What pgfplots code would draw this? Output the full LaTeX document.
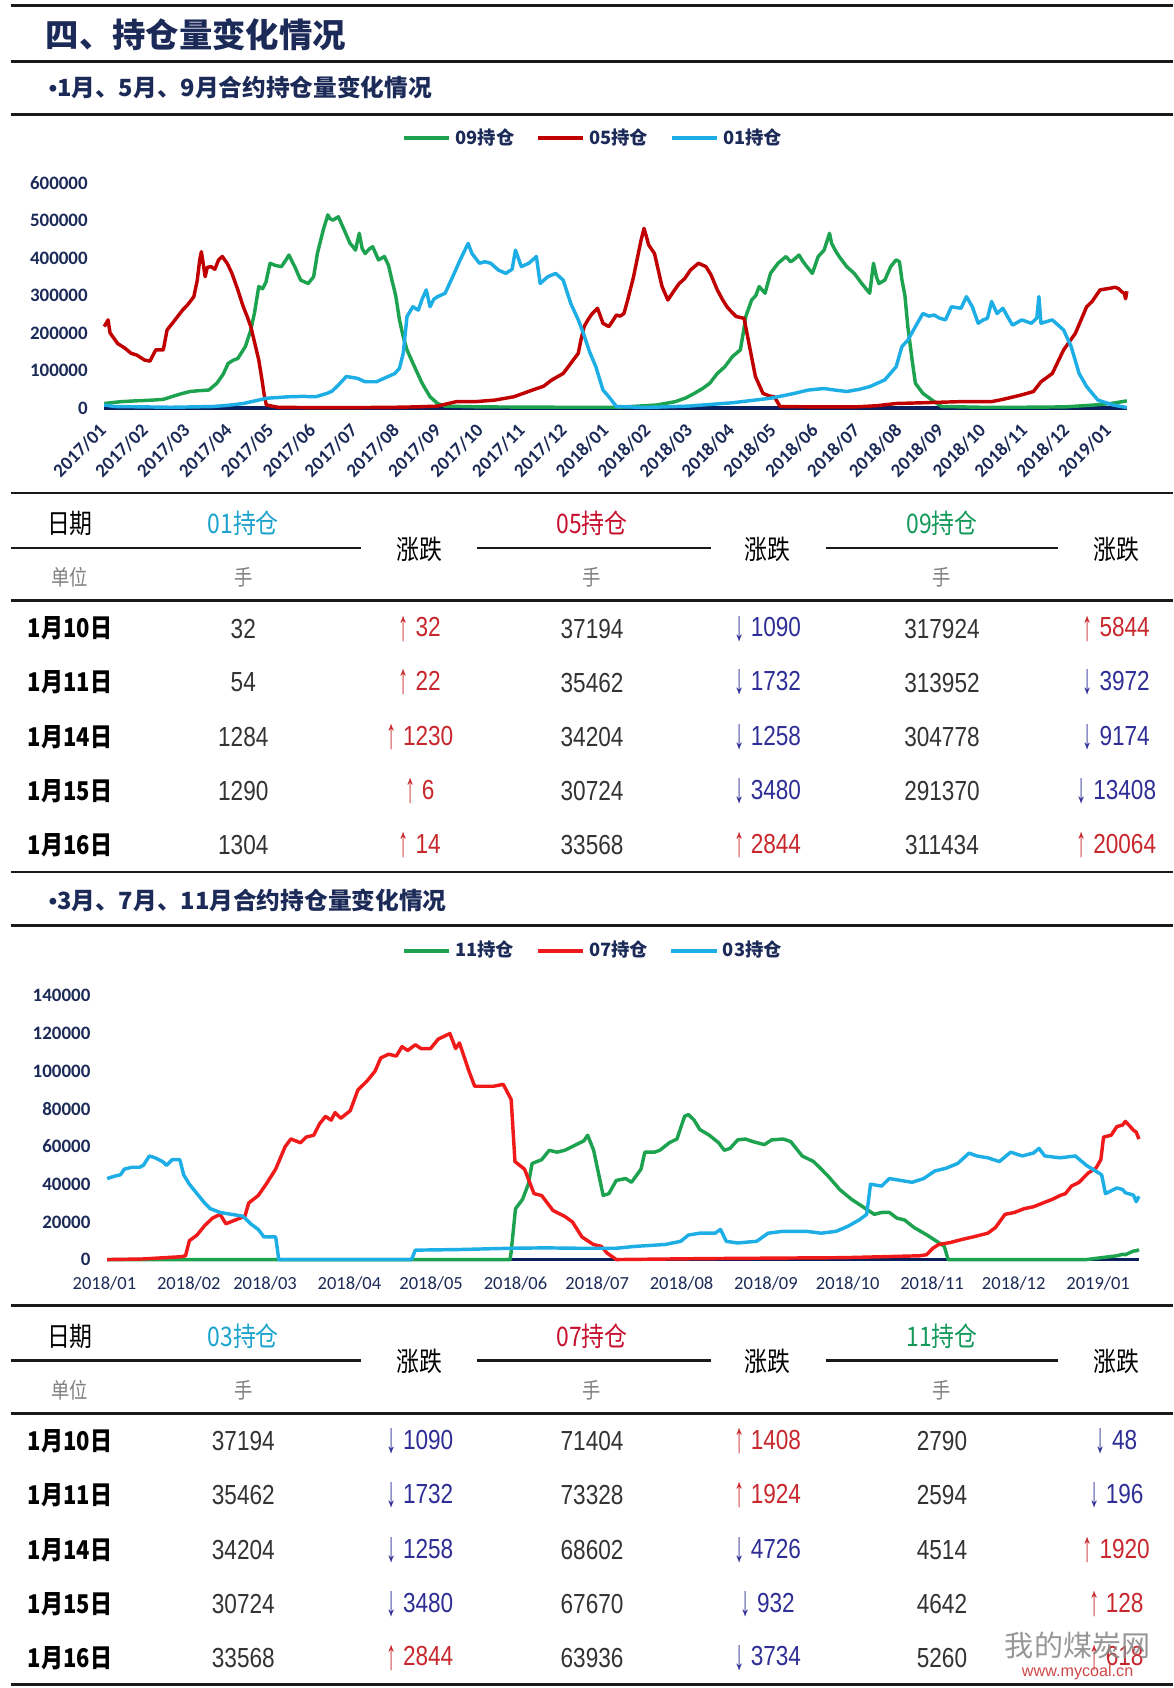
\documentclass[border=0pt]{standalone}
\usepackage{pgfplots}
\pgfplotsset{compat=1.18}
\usepackage{graphicx}
\usepackage{fontspec}
\setmainfont{Liberation Sans}
\newfontfamily\cjk{Noto Sans CJK SC}
\newfontfamily\cjkn[FakeStretch=0.85]{Noto Sans CJK SC}
\newfontfamily\narrow[FakeStretch=0.82]{Liberation Sans}
\newfontfamily\tickf{Carlito}

\definecolor{navy}{HTML}{1C2A58}
\definecolor{g09}{HTML}{1DA34F}
\definecolor{r05}{HTML}{C00000}
\definecolor{r07}{HTML}{F01A1A}
\definecolor{b01}{HTML}{1EAEE6}
\definecolor{dk}{HTML}{0A1F5C}
\definecolor{hc}{HTML}{1AA3CC}
\definecolor{hr}{HTML}{C8102E}
\definecolor{hg}{HTML}{139A5A}
\definecolor{upc}{HTML}{C8282D}
\definecolor{dnc}{HTML}{2E2E96}
\definecolor{numc}{HTML}{333333}
\definecolor{rulec}{HTML}{1A1A1A}

\newcommand{\up}[1]{\textcolor{upc}{\raisebox{-0.12em}{\scalebox{0.9}[1.55]{↑}}\hspace{3pt}#1}}
\newcommand{\dn}[1]{\textcolor{dnc}{\raisebox{-0.12em}{\scalebox{0.9}[1.55]{↓}}\hspace{3pt}#1}}

\tikzset{
  num/.style={font=\narrow\fontsize{12.8}{13}\selectfont, text=numc, inner sep=0pt},
  chg/.style={font=\narrow\fontsize{12.8}{13}\selectfont, inner sep=0pt},
  hdr/.style={font=\cjkn\fontsize{12.5}{13}\selectfont, inner sep=0pt},
  unit/.style={font=\cjkn\fontsize{10}{10}\selectfont, text=gray, inner sep=0pt},
  dt/.style={font=\cjkn\bfseries\fontsize{12}{12}\selectfont, text=black, inner sep=0pt},
  rl/.style={draw=rulec, line width=1.3pt},
}

\newcommand{\thead}[4]{%
  \node[hdr] at (65,#1+28) {日期};
  \node[hdr,text=hc] at (226,#1+28) {#2};
  \node[hdr,text=hr] at (550,#1+28) {#3};
  \node[hdr,text=hg] at (875,#1+28) {#4};
  \node[hdr] at (390,#1+52) {涨跌};
  \node[hdr] at (713,#1+52) {涨跌};
  \node[hdr] at (1037,#1+52) {涨跌};
  \draw[rl] (10,#1+51) -- (335,#1+51);
  \draw[rl] (443,#1+51) -- (660,#1+51);
  \draw[rl] (767,#1+51) -- (983,#1+51);
  \node[unit] at (65,#1+78) {单位};
  \node[unit] at (226,#1+78) {手};
  \node[unit] at (550,#1+78) {手};
  \node[unit] at (875,#1+78) {手};
  \draw[rl] (10,#1+100) -- (1090,#1+100);
}
\newcommand{\trow}[8]{%
  \node[dt] at (65,#1) {#2};
  \node[num] at (226,#1) {#3};
  \node[chg] at (390,#1) {#4};
  \node[num] at (550,#1) {#5};
  \node[chg] at (713,#1) {#6};
  \node[num] at (875,#1) {#7};
  \node[chg] at (1037,#1) {#8};
}

\pgfplotsset{
  mystyle/.style={
    scale only axis, axis line style={draw=none}, major tick length=0pt,
    clip=false,
    yticklabel style={font=\tickf\bfseries\fontsize{8.8}{9}\selectfont, text=navy,
      /pgf/number format/fixed, /pgf/number format/1000 sep={},
      /pgf/number format/assume math mode=true, xshift=-3pt},
    scaled y ticks=false,
    legend style={draw=none, fill=none, legend columns=3,
      font=\cjk\bfseries\fontsize{8.5}{9}\selectfont, text=navy,
      /tikz/every even column/.append style={column sep=8pt}},
    legend image code/.code={\draw[##1, line width=1.8pt] (0pt,0pt) -- (21pt,0pt);},
    every axis plot/.append style={line width=1.6pt, line join=round, mark=none},
  }
}

\begin{document}
\begin{tikzpicture}
\begin{scope}[x=0.5pt,y=-0.5pt]
  \fill[white] (0,0) rectangle (1090,1568);
  \useasboundingbox (0,0) rectangle (1090,1568);
  % header
  \draw[rl] (10,5) -- (1090,5);
  \node[anchor=west, inner sep=0pt, font=\cjk\bfseries\fontsize{15.5}{16}\selectfont, text=navy] at (42,32) {四、持仓量变化情况};
  \draw[rl] (10,57) -- (1090,57);
  \node[anchor=west, inner sep=0pt, font=\cjk\bfseries\fontsize{11}{12}\selectfont, text=navy] at (45,81) {{\rmfamily\bfseries •}1月、5月、9月合约持仓量变化情况};
  \draw[rl] (10,106) -- (1090,106);
  \draw[rl] (10,458) -- (1090,458);
  % table 1
  \thead{458}{01持仓}{05持仓}{09持仓}
  \trow{584}{1月10日}{32}{\up{32}}{37194}{\dn{1090}}{317924}{\up{5844}}
  \trow{634}{1月11日}{54}{\up{22}}{35462}{\dn{1732}}{313952}{\dn{3972}}
  \trow{685}{1月14日}{1284}{\up{1230}}{34204}{\dn{1258}}{304778}{\dn{9174}}
  \trow{735}{1月15日}{1290}{\up{6}}{30724}{\dn{3480}}{291370}{\dn{13408}}
  \trow{785}{1月16日}{1304}{\up{14}}{33568}{\up{2844}}{311434}{\up{20064}}
  \draw[rl] (10,810) -- (1090,810);
  \node[anchor=west, inner sep=0pt, font=\cjk\bfseries\fontsize{11}{12}\selectfont, text=navy] at (45,836) {{\rmfamily\bfseries •}3月、7月、11月合约持仓量变化情况};
  \draw[rl] (10,860) -- (1090,860);
  \draw[rl] (10,1213) -- (1090,1213);
  % table 2
  \thead{1213}{03持仓}{07持仓}{11持仓}
  \trow{1339}{1月10日}{37194}{\dn{1090}}{71404}{\up{1408}}{2790}{\dn{48}}
  \trow{1389}{1月11日}{35462}{\dn{1732}}{73328}{\up{1924}}{2594}{\dn{196}}
  \trow{1440}{1月14日}{34204}{\dn{1258}}{68602}{\dn{4726}}{4514}{\up{1920}}
  \trow{1490}{1月15日}{30724}{\dn{3480}}{67670}{\dn{932}}{4642}{\up{128}}
  \trow{1540}{1月16日}{33568}{\up{2844}}{63936}{\dn{3734}}{5260}{\up{618}}
  \draw[rl] (10,1565) -- (1090,1565);
  % watermark
  \node[inner sep=0pt, font=\cjk\fontsize{13.5}{14}\selectfont, text=gray!90, opacity=0.9] at (1001,1528) {我的煤炭网};
  \node[inner sep=0pt, font=\fontsize{7.5}{8}\selectfont, text=red!60!gray, opacity=0.9] at (1001,1553) {www.mycoal.cn};
\end{scope}

% ---------- top chart ----------
\begin{axis}[mystyle, at={(47.25pt,-189.5pt)}, anchor=south west,
  width=476.5pt, height=104.5pt,
  xmin=0, xmax=24.5, ymin=0, ymax=600000,
  ytick={0,100000,...,600000},
  xtick={0,...,24},
  xticklabels={2017/01,2017/02,2017/03,2017/04,2017/05,2017/06,2017/07,2017/08,2017/09,2017/10,2017/11,2017/12,2018/01,2018/02,2018/03,2018/04,2018/05,2018/06,2018/07,2018/08,2018/09,2018/10,2018/11,2018/12,2019/01},
  xticklabel style={font=\tickf\bfseries\fontsize{8.8}{9}\selectfont, text=navy, yshift=-6.5pt, xshift=3pt, rotate=45, anchor=east},
  legend style={at={(0.48,1.201)}, anchor=center},
]
\addplot[dk, forget plot] coordinates {(0.06,0) (24.48,0)};
\addplot[g09] coordinates {
(0.06,12000) (0.3,15000) (0.47,17000) (0.8,19000) (1.2,21000) (1.47,23000) (1.75,33000) (1.9,38000) (2.11,44000) (2.3,46000) (2.56,48000) (2.75,66000) (2.9,90000) (3.02,119000) (3.15,128000) (3.25,132000) (3.43,164000) (3.56,208000) (3.65,255000) (3.75,324000) (3.84,318000) (3.92,335000) (4.02,386000) (4.15,380000) (4.29,377000) (4.4,395000) (4.47,408000) (4.55,390000) (4.61,377000) (4.75,341000) (4.85,336000) (4.93,332000) (5.06,350000) (5.15,412000) (5.29,475000) (5.4,515000) (5.45,505000) (5.52,501000) (5.65,510000) (5.79,475000) (5.93,439000) (6.0,430000) (6.06,421000) (6.15,466000) (6.22,425000) (6.29,412000) (6.4,425000) (6.47,430000) (6.55,410000) (6.61,395000) (6.75,404000) (6.85,380000) (6.93,341000) (7.02,300000) (7.11,235000) (7.2,190000) (7.29,155000) (7.47,110000) (7.65,66000) (7.84,30000) (8.02,12000) (8.2,5000) (9,3000) (10,2500) (11,2000) (12,2000) (12.34,2000) (12.8,5000) (13.25,8000) (13.7,17000) (13.95,27000) (14.15,39000) (14.35,52000) (14.52,66000) (14.7,92000) (14.88,110000) (15.06,137000) (15.25,155000) (15.32,200000) (15.38,244000) (15.52,288000) (15.62,300000) (15.7,324000) (15.84,306000) (15.97,359000) (16.15,386000) (16.34,404000) (16.45,390000) (16.52,395000) (16.65,408000) (16.75,390000) (16.84,377000) (16.97,359000) (17.11,404000) (17.25,421000) (17.38,466000) (17.43,439000) (17.52,420000) (17.61,404000) (17.79,377000) (17.97,359000) (18.15,332000) (18.34,306000) (18.43,386000) (18.5,350000) (18.56,332000) (18.7,341000) (18.84,377000) (18.97,395000) (19.05,390000) (19.11,341000) (19.18,300000) (19.25,217000) (19.35,130000) (19.43,66000) (19.61,39000) (19.88,17000) (20.06,4000) (21,2000) (22,2000) (23,3000) (23.7,8000) (24.1,12000) (24.48,19000)};
\addlegendentry{09持仓}
\addplot[r05] coordinates {
(0.06,217000) (0.15,235000) (0.2,200000) (0.38,172000) (0.56,159000) (0.7,146000) (0.84,141000) (1.02,128000) (1.15,125000) (1.22,140000) (1.29,155000) (1.47,155000) (1.56,208000) (1.75,235000) (1.93,261000) (2.05,275000) (2.2,297000) (2.28,340000) (2.34,395000) (2.38,417000) (2.47,350000) (2.52,375000) (2.61,377000) (2.7,370000) (2.79,395000) (2.88,404000) (3.0,385000) (3.11,359000) (3.25,315000) (3.38,270000) (3.47,245000) (3.56,217000) (3.65,175000) (3.75,128000) (3.82,80000) (3.88,35000) (3.93,8000) (4.2,2000) (5,1000) (6,1000) (7,2000) (7.5,3000) (8.02,5000) (8.2,10000) (8.47,17000) (8.93,17000) (9.38,21000) (9.84,30000) (10.29,48000) (10.55,58000) (10.75,75000) (11.02,92000) (11.2,119000) (11.38,146000) (11.45,185000) (11.52,217000) (11.61,235000) (11.7,250000) (11.84,266000) (11.97,226000) (12.11,217000) (12.2,232000) (12.29,248000) (12.38,245000) (12.47,252000) (12.56,288000) (12.7,350000) (12.88,448000) (12.95,479000) (13.0,460000) (13.06,435000) (13.2,412000) (13.38,324000) (13.52,288000) (13.65,310000) (13.79,332000) (13.92,345000) (14.06,368000) (14.25,386000) (14.43,377000) (14.55,355000) (14.7,315000) (14.82,290000) (14.93,270000) (15.05,255000) (15.15,244000) (15.34,239000) (15.47,164000) (15.61,84000) (15.79,39000) (15.95,32000) (16.06,30000) (16.2,4000) (17,3000) (18,3000) (18.5,6000) (18.97,12000) (19.61,14000) (20.52,17000) (21.25,17000) (21.52,23000) (21.97,35000) (22.25,44000) (22.43,70000) (22.7,92000) (22.97,155000) (23.25,199000) (23.52,270000) (23.65,284000) (23.84,315000) (24.06,319000) (24.2,322000) (24.29,317924) (24.32,313952) (24.42,304778) (24.45,291370) (24.48,311434)};
\addlegendentry{05持仓}
\addplot[b01] coordinates {
(0.06,8000) (0.3,4000) (1.0,3000) (1.65,2000) (2.2,3000) (2.65,4000) (3.0,7000) (3.38,12000) (3.7,20000) (3.93,26000) (4.2,28000) (4.47,30000) (4.8,31000) (5.11,30000) (5.38,39000) (5.5,45000) (5.65,61000) (5.84,84000) (5.95,82000) (6.11,79000) (6.29,70000) (6.56,70000) (6.84,84000) (7.0,92000) (7.11,106000) (7.2,146000) (7.29,244000) (7.43,270000) (7.56,261000) (7.65,290000) (7.75,315000) (7.84,270000) (7.93,290000) (8.02,297000) (8.2,306000) (8.38,350000) (8.56,395000) (8.75,439000) (8.84,412000) (9.02,386000) (9.15,390000) (9.29,386000) (9.47,368000) (9.65,359000) (9.8,370000) (9.88,421000) (10.02,377000) (10.2,386000) (10.38,404000) (10.47,332000) (10.65,350000) (10.84,359000) (11.02,341000) (11.2,279000) (11.38,235000) (11.5,200000) (11.65,150000) (11.8,110000) (11.97,48000) (12.11,30000) (12.29,4000) (13,1500) (14,5000) (15.06,14000) (15.97,26000) (16.5,38000) (16.88,48000) (17.25,52000) (17.5,48000) (17.79,44000) (18.1,50000) (18.34,57000) (18.7,75000) (18.97,110000) (19.11,164000) (19.25,181000) (19.43,217000) (19.61,252000) (19.75,245000) (19.88,248000) (20.0,240000) (20.15,235000) (20.29,270000) (20.52,266000) (20.65,297000) (20.79,270000) (20.93,226000) (21.05,235000) (21.15,239000) (21.25,284000) (21.38,252000) (21.52,266000) (21.65,240000) (21.75,221000) (21.97,235000) (22.2,226000) (22.33,240000) (22.38,297000) (22.43,226000) (22.7,235000) (22.97,208000) (23.15,164000) (23.34,92000) (23.52,57000) (23.79,21000) (24.15,8000) (24.48,1304)};
\addlegendentry{01持仓}
\end{axis}

% ---------- bottom chart ----------
\begin{axis}[mystyle, at={(48.5pt,-585pt)}, anchor=south west,
  width=481.75pt, height=122.5pt,
  xmin=0, xmax=381, ymin=0, ymax=140000,
  ytick={0,20000,...,140000},
  xtick={0,31,59,90,120,151,181,212,243,273,304,334,365},
  xticklabels={2018/01,2018/02,2018/03,2018/04,2018/05,2018/06,2018/07,2018/08,2018/09,2018/10,2018/11,2018/12,2019/01},
  xticklabel style={font=\tickf\fontsize{8.6}{9}\selectfont, text=navy, yshift=-4.5pt},
  legend style={at={(0.472,1.171)}, anchor=center},
]
\addplot[dk, forget plot] coordinates {(114,0) (380,0)};
\addplot[g09] coordinates {
(1,0) (149,0) (149.4,4000) (151,27000) (153.6,32000) (155.7,40000) (157.1,51000) (160.6,53000) (163.4,58000) (166.2,57000) (169.1,58000) (171.9,60000) (174.7,62000) (176.1,63000) (177.5,66000) (179.7,58000) (183.2,34000) (185.3,35000) (188,42000) (191.5,43000) (193.6,41000) (197.1,48000) (198.5,57000) (202,57000) (204,58000) (207.5,62000) (210.3,64000) (213.1,76000) (214.5,77000) (216.6,74000) (218.7,69000) (222.2,66000) (225.6,62000) (227.7,58000) (229.8,59000) (232.6,63500) (235.4,64000) (238.2,62600) (242.4,61000) (245.1,63500) (249.3,64000) (252.1,62600) (256.3,55000) (260.5,52000) (263.3,48000) (266,44000) (270.2,37000) (274.4,32000) (278.6,28000) (282.8,24000) (285.5,25000) (288.3,25000) (291.1,22000) (293.9,21000) (297.4,17000) (302.2,13000) (306.4,9000) (308.5,7000) (309.9,0) (360.7,0) (366.3,1000) (371.9,2000) (374,2790) (375,2594) (378,4514) (379,4642) (380,5260)};
\addlegendentry{11持仓}
\addplot[r07] coordinates {
(1,0) (14,300) (28,1500) (29.8,2000) (31.2,10000) (34,13000) (36.8,18000) (39.7,22000) (42.5,24000) (44.6,19000) (48.1,21000) (51.6,23000) (53,30000) (56.5,34000) (59.4,40000) (62.9,48000) (66.4,60000) (68.5,64000) (72,62000) (74.1,65000) (76.9,66000) (79,72000) (81.2,76000) (83.3,74000) (84.7,78000) (86.8,75000) (90.3,79000) (93.1,90000) (96.6,95000) (99.4,100000) (101.5,107000) (104.4,109000) (107.2,108000) (109.3,113000) (111.4,111000) (114.2,114000) (116.3,112000) (119.8,112000) (122.6,117000) (125.5,119000) (126.9,120000) (129,112000) (130.4,115000) (133.9,100000) (136,92000) (139.5,92000) (143,92000) (146.5,93000) (149.4,85000) (150.8,52000) (154.3,48000) (157.8,35000) (160.6,34000) (164.8,26000) (169,23000) (171.9,20000) (175.4,12000) (179.6,8000) (182.5,7000) (184.6,3500) (188,0) (220,500) (250,800) (271.6,1000) (299.5,2000) (302,2600) (304.3,6000) (306.4,8000) (310.6,9000) (314.8,10600) (319,12000) (324.5,14000) (327.3,17000) (330.8,24000) (334.3,25000) (337.8,27000) (341.2,28000) (344.7,30000) (348.2,32000) (351,34000) (353,35000) (355.2,39000) (358,41000) (361.4,46000) (364.2,48500) (366,53000) (367,65000) (369.8,66000) (371.9,70600) (374,71404) (375,73328) (376.8,70600) (378,68602) (379,67670) (380,63936)};
\addlegendentry{07持仓}
\addplot[b01] coordinates {
(1,43000) (3.1,44000) (5.9,45000) (7.3,48000) (10.1,49000) (12.9,49000) (14.3,50000) (16.5,55000) (18.6,54000) (21.4,52000) (22.8,50000) (24.9,53000) (27.7,53000) (29.1,45000) (31.2,40000) (34,35000) (36.8,30000) (38.9,27000) (42.5,25000) (46.7,24000) (50.9,23000) (53.7,19000) (56.5,16000) (58.6,12000) (62.9,12000) (63.5,6000) (64,0) (112.8,0) (114.2,5000) (129.7,5300) (149.4,6000) (162,6200) (174,6000) (188,6000) (195,7000) (206,8000) (211.7,9700) (214.5,13000) (218.7,14000) (224.3,14000) (226.3,16000) (228.4,9700) (232.6,8800) (239.6,9700) (243.8,14000) (249.3,15000) (257.7,15000) (263.3,14000) (268.8,15000) (273,17600) (277.2,21000) (280,24000) (281.4,40000) (285.5,39000) (288.3,43000) (292.5,42000) (296.7,41000) (300.9,43000) (305,47000) (309.2,48500) (313.4,51000) (317.6,56500) (320.4,55000) (324.5,54000) (328.7,52000) (332.9,57000) (337.1,55000) (341.2,56500) (343.3,59000) (345.4,55000) (351,54000) (356.6,55000) (360.7,50000) (366.3,45000) (367.7,35000) (371.9,38000) (374,37194) (375,35462) (378,34204) (379,30724) (380,33568)};
\addlegendentry{03持仓}
\end{axis}
\end{tikzpicture}
\end{document}
